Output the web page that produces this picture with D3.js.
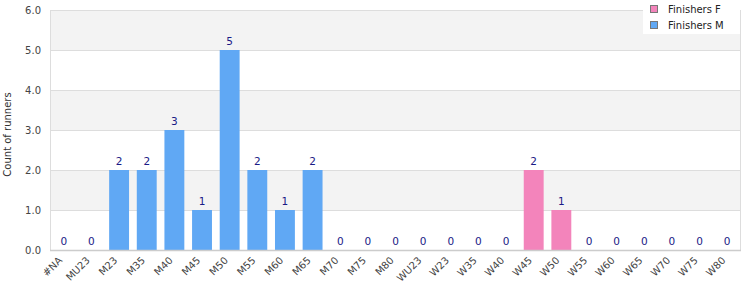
<!DOCTYPE html>
<html>
<head>
<meta charset="utf-8">
<script src="https://cdn.jsdelivr.net/npm/d3@7"></script>
<style>
  body { margin: 0; background: #fff; }
  svg { font-family: "DejaVu Sans", Verdana, sans-serif; }
</style>
</head>
<body>
<div id="chart"></div>
<script>
// categories and counts per category
const categories = ["#NA", "MU23", "M23", "M35", "M40", "M45", "M50", "M55", "M60", "M65", "M70", "M75", "M80",
  "WU23", "W23", "W35", "W40", "W45", "W50", "W55", "W60", "W65", "W70", "W75", "W80"];
const finishersM = [0, 0, 2, 2, 3, 1, 5, 2, 1, 2, 0, 0, 0, 0, 0, 0, 0, 0, 0, 0, 0, 0, 0, 0, 0];
const finishersF = [0, 0, 0, 0, 0, 0, 0, 0, 0, 0, 0, 0, 0, 0, 0, 0, 0, 2, 1, 0, 0, 0, 0, 0, 0];
const yTicks = [0, 1, 2, 3, 4, 5, 6];

const width = 750, height = 300;
const margin = { top: 10, right: 9, bottom: 50, left: 50 };
const innerW = width - margin.left - margin.right;
const innerH = height - margin.top - margin.bottom;

const colorF = "#f384bb";
const colorM = "#60a8f4";

const svg = d3.select("#chart").append("svg")
  .attr("width", width)
  .attr("height", height);

const g = svg.append("g").attr("transform", `translate(${margin.left},${margin.top})`);

const x = d3.scaleBand().domain(categories).range([0, innerW]).paddingInner(0.28).paddingOuter(0.14);
const y = d3.scaleLinear().domain([0, 6]).range([innerH, 0]);

// alternating bands
g.selectAll(".band")
  .data(yTicks.slice(0, -1))
  .enter()
  .append("rect")
  .attr("x", 0)
  .attr("width", innerW)
  .attr("y", (d) => y(d + 1))
  .attr("height", (d) => y(d) - y(d + 1))
  .attr("fill", (d) => (d % 2 === 1 ? "#f3f3f3" : "#ffffff"));

// gridlines
g.selectAll(".grid")
  .data(yTicks)
  .enter()
  .append("line")
  .attr("x1", 0)
  .attr("x2", innerW)
  .attr("y1", (d) => y(d) + 0.5)
  .attr("y2", (d) => y(d) + 0.5)
  .attr("stroke", "#dddddd");

// frame
g.append("line").attr("x1", 0.5).attr("x2", 0.5).attr("y1", 0).attr("y2", innerH).attr("stroke", "#dddddd");
g.append("line").attr("x1", innerW - 0.5).attr("x2", innerW - 0.5).attr("y1", 0).attr("y2", innerH).attr("stroke", "#dddddd");

// stacked bars
const rows = categories.map((c, i) => ({ cat: c, M: finishersM[i], F: finishersF[i] }));
const stack = d3.stack().keys(["M", "F"])(rows);
const colors = { M: colorM, F: colorF };

stack.forEach((layer) => {
  g.selectAll(".bar-" + layer.key)
    .data(layer.filter((d) => d[1] > d[0]))
    .enter()
    .append("rect")
    .attr("x", (d) => x(d.data.cat))
    .attr("width", x.bandwidth())
    .attr("y", (d) => y(d[1]))
    .attr("height", (d) => y(d[0]) - y(d[1]))
    .attr("fill", colors[layer.key]);
});

// bottom axis line
g.append("line")
  .attr("x1", 0).attr("x2", innerW)
  .attr("y1", innerH + 0.5).attr("y2", innerH + 0.5)
  .attr("stroke", "#cccccc").attr("stroke-width", 1.5);

// value labels
g.selectAll(".val")
  .data(rows)
  .enter()
  .append("text")
  .attr("x", (d) => x(d.cat) + x.bandwidth() / 2)
  .attr("y", (d) => y(d.M + d.F) - 5)
  .attr("text-anchor", "middle")
  .style("font-size", "10.5px")
  .style("fill", "#1a1a86")
  .text((d) => d.M + d.F);

// y tick labels
g.selectAll(".ylab")
  .data(yTicks)
  .enter()
  .append("text")
  .attr("x", -9)
  .attr("y", (d) => y(d) + 4)
  .attr("text-anchor", "end")
  .style("font-size", "10px")
  .style("fill", "#444")
  .text((d) => d.toFixed(1));

// x tick labels
g.selectAll(".xlab")
  .data(categories)
  .enter()
  .append("text")
  .attr("transform", (d) => `translate(${x(d) + x.bandwidth() / 2 - 1},${innerH + 11}) rotate(-45)`)
  .attr("text-anchor", "end")
  .style("font-size", "10px")
  .style("fill", "#444")
  .text((d) => d);

// y title
svg.append("text")
  .attr("transform", `translate(11,134.5) rotate(-90)`)
  .attr("text-anchor", "middle")
  .style("font-size", "10px")
  .style("fill", "#333")
  .text("Count of runners");

// legend
const legendItems = [{ label: "Finishers F", color: colorF }, { label: "Finishers M", color: colorM }];
const legend = svg.append("g").attr("transform", "translate(643,0)");
legend.append("rect").attr("width", 97).attr("height", 34).attr("fill", "#fff");
const li = legend.selectAll(".li")
  .data(legendItems)
  .enter()
  .append("g")
  .attr("transform", (d, i) => `translate(7,${5 + i * 16})`);
li.append("rect")
  .attr("width", 7).attr("height", 7)
  .attr("x", 0.5).attr("y", 0.5)
  .attr("fill", (d) => d.color)
  .attr("stroke", "#777");
li.append("text")
  .attr("x", 18)
  .attr("y", 7.5)
  .style("font-size", "10px")
  .style("fill", "#222")
  .text((d) => d.label);
</script>
</body>
</html>
